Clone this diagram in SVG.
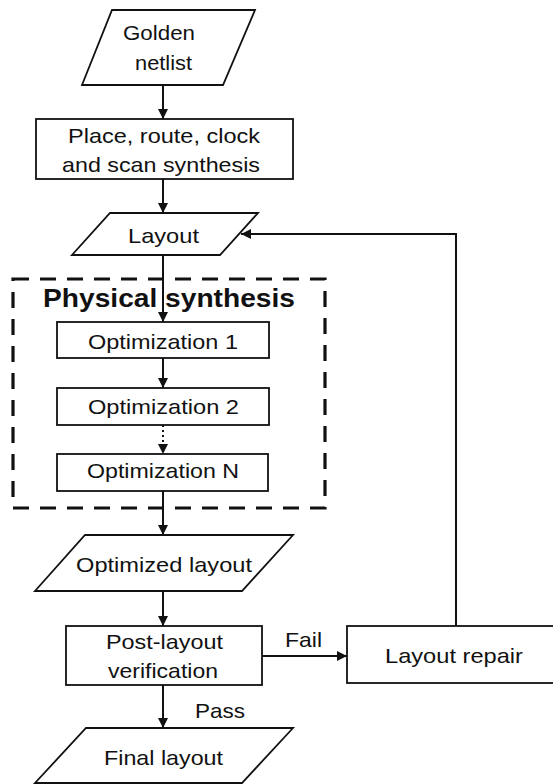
<svg xmlns="http://www.w3.org/2000/svg" width="553" height="784" viewBox="0 0 553 784">
<defs>
<style>
.shape{fill:#fff;stroke:#111;stroke-width:1.8}
.conn{fill:none;stroke:#111;stroke-width:2}
.dot{fill:none;stroke:#111;stroke-width:2;stroke-dasharray:2 3}
.dash{fill:none;stroke:#111;stroke-width:3.2;stroke-dasharray:16 11}
text{font-family:"Liberation Sans",Arial,sans-serif;font-size:21px;fill:#111}
.bold{font-weight:bold;font-size:25px}
</style>
<marker id="arr" viewBox="0 0 10 10" refX="10" refY="5" markerWidth="5.5" markerHeight="5" orient="auto" markerUnits="strokeWidth">
<path d="M0,0 L10,5 L0,10 Z" fill="#111"/>
</marker>
</defs>
<rect width="553" height="784" fill="#fff"/>

<g id="physical-synthesis">
<rect class="dash" x="13" y="279" width="312" height="229"/>
<text class="bold" x="43" y="307" textLength="252" lengthAdjust="spacingAndGlyphs">Physical synthesis</text>
</g>

<g id="connectors">
<line class="conn" x1="163" y1="85" x2="163" y2="119" marker-end="url(#arr)"/>
<line class="conn" x1="163" y1="179" x2="163" y2="213" marker-end="url(#arr)"/>
<line class="conn" x1="163" y1="255" x2="163" y2="322" marker-end="url(#arr)"/>
<line class="conn" x1="163" y1="358" x2="163" y2="388" marker-end="url(#arr)"/>
<line class="dot" x1="163" y1="425" x2="163" y2="454" marker-end="url(#arr)"/>
<line class="conn" x1="163" y1="491" x2="163" y2="535" marker-end="url(#arr)"/>
<line class="conn" x1="163" y1="591" x2="163" y2="626" marker-end="url(#arr)"/>
<line class="conn" x1="163" y1="685" x2="163" y2="728" marker-end="url(#arr)"/>
<line class="conn" x1="262" y1="656" x2="347" y2="656" marker-end="url(#arr)"/>
<polyline class="conn" points="456,626 456,234 241,234" marker-end="url(#arr)"/>
<text x="285" y="647" textLength="37" lengthAdjust="spacingAndGlyphs">Fail</text>
<text x="195" y="718" textLength="50" lengthAdjust="spacingAndGlyphs">Pass</text>
</g>

<g id="golden-netlist">
<polygon class="shape" points="112,10 255,10 223,85 82,85"/>
<text x="123" y="40" textLength="72" lengthAdjust="spacingAndGlyphs">Golden</text>
<text x="135" y="70" textLength="57" lengthAdjust="spacingAndGlyphs">netlist</text>
</g>

<g id="place-route">
<rect class="shape" x="36" y="119" width="257" height="60"/>
<text x="68" y="143" textLength="192" lengthAdjust="spacingAndGlyphs">Place, route, clock</text>
<text x="62" y="172" textLength="198" lengthAdjust="spacingAndGlyphs">and scan synthesis</text>
</g>

<g id="layout">
<polygon class="shape" points="110,213 258,213 220,255 72,255"/>
<text x="128" y="243" textLength="71" lengthAdjust="spacingAndGlyphs">Layout</text>
</g>

<g id="opt1">
<rect class="shape" x="57" y="322" width="212" height="36"/>
<text x="88" y="349" textLength="150" lengthAdjust="spacingAndGlyphs">Optimization 1</text>
</g>

<g id="opt2">
<rect class="shape" x="57" y="388" width="212" height="37"/>
<text x="88" y="414" textLength="151" lengthAdjust="spacingAndGlyphs">Optimization 2</text>
</g>

<g id="optN">
<rect class="shape" x="57" y="454" width="211" height="37"/>
<text x="87" y="478" textLength="152" lengthAdjust="spacingAndGlyphs">Optimization N</text>
</g>

<g id="optimized-layout">
<polygon class="shape" points="85,535 293,535 242,591 35,591"/>
<text x="76" y="572" textLength="176" lengthAdjust="spacingAndGlyphs">Optimized layout</text>
</g>

<g id="post-layout">
<rect class="shape" x="66" y="626" width="196" height="59"/>
<text x="106" y="649" textLength="117" lengthAdjust="spacingAndGlyphs">Post-layout</text>
<text x="108" y="678" textLength="110" lengthAdjust="spacingAndGlyphs">verification</text>
</g>

<g id="layout-repair">
<rect class="shape" x="347" y="626" width="220" height="57"/>
<text x="385" y="663" textLength="138" lengthAdjust="spacingAndGlyphs">Layout repair</text>
</g>

<g id="final-layout">
<polygon class="shape" points="86,728 293,728 242,783 35,783"/>
<text x="104" y="765" textLength="119" lengthAdjust="spacingAndGlyphs">Final layout</text>
</g>
</svg>
